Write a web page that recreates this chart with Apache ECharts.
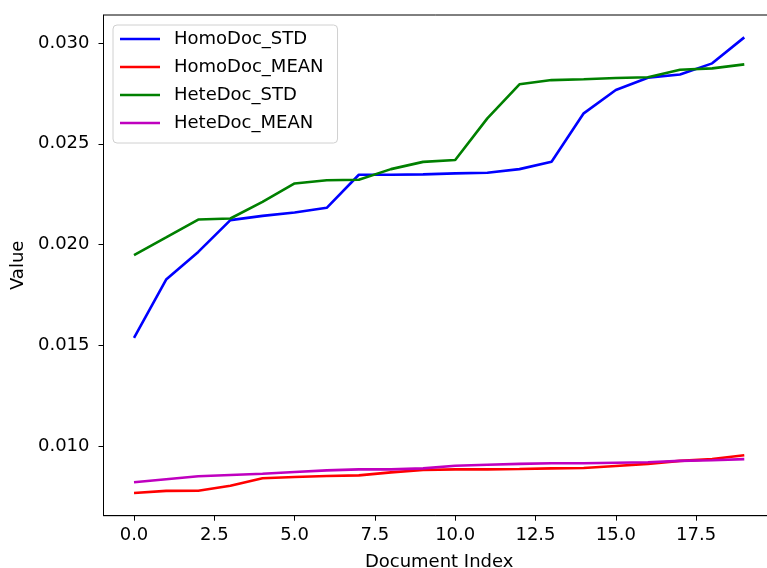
<!DOCTYPE html>
<html>
<head>
<meta charset="utf-8">
<script src="https://cdn.jsdelivr.net/npm/echarts@6/dist/echarts.min.js"></script>
<style>
    html, body { margin: 0; padding: 0; background: #fff; }
    #chart { width: 767px; height: 568px; }
</style>
</head>
<body>
<div id="chart"></div>
<script>
// document index 0..19
const docIndex = [0, 1, 2, 3, 4, 5, 6, 7, 8, 9, 10, 11, 12, 13, 14, 15, 16, 17, 18, 19];

const homoStd = [0.01536, 0.01826, 0.01963, 0.02121, 0.02142, 0.02159, 0.02182, 0.02346, 0.02346, 0.02348,
    0.02353, 0.02356, 0.02374, 0.02411, 0.02651, 0.02767, 0.02828, 0.02844, 0.02899, 0.03028];
const homoMean = [0.00767, 0.00777, 0.00778, 0.00803, 0.00840, 0.00846, 0.00851, 0.00854, 0.00869, 0.00881,
    0.00884, 0.00884, 0.00886, 0.00889, 0.00891, 0.00901, 0.00911, 0.00926, 0.00935, 0.00954];
const heteStd = [0.01947, 0.02035, 0.02124, 0.02129, 0.02212, 0.02303, 0.02319, 0.02321, 0.02374, 0.02410,
    0.02419, 0.02626, 0.02795, 0.02816, 0.02820, 0.02826, 0.02830, 0.02867, 0.02874, 0.02894];
const heteMean = [0.00820, 0.00835, 0.00850, 0.00856, 0.00862, 0.00871, 0.00879, 0.00884, 0.00884, 0.00889,
    0.00902, 0.00907, 0.00911, 0.00914, 0.00914, 0.00917, 0.00919, 0.00926, 0.00929, 0.00935];

const seriesNames = ['HomoDoc_STD', 'HomoDoc_MEAN', 'HeteDoc_STD', 'HeteDoc_MEAN'];
const seriesColors = ['#0000ff', '#ff0000', '#008000', '#bf00bf'];

// tick labels
const xTicks = [0, 2.5, 5, 7.5, 10, 12.5, 15, 17.5];
const yTicks = [0.010, 0.015, 0.020, 0.025, 0.030];

const FONT = 'DejaVu Sans';
const FS = 18;

const toPairs = (vals) => docIndex.map((x, i) => [x, vals[i]]);

const myChart = echarts.init(document.getElementById('chart'), null, { renderer: 'canvas' });

const option = {
    animation: false,
    backgroundColor: '#fff',
    textStyle: { fontFamily: FONT },
    grid: {
        left: 103.5,
        top: 15,
        width: 671.3,   // right spine falls outside the picture
        height: 500.7,
        outerBoundsMode: 'none',
        containLabel: false,
        show: true,
        borderColor: '#000',
        borderWidth: 1,
        backgroundColor: 'transparent'
    },
    legend: {
        orient: 'vertical',
        left: 113,
        top: 25,
        data: seriesNames,
        icon: 'rect',
        itemWidth: 40,
        itemHeight: 2.6,
        itemGap: 8,
        padding: [4, 14, 10, 7],
        borderColor: '#d0d0d0',
        borderWidth: 1,
        borderRadius: 4,
        backgroundColor: 'rgba(255,255,255,0.8)',
        textStyle: {
            fontFamily: FONT,
            fontSize: FS,
            color: '#000',
            lineHeight: 20,
            padding: [0, 0, 0, 9]
        }
    },
    xAxis: {
        type: 'value',
        min: -0.95,
        max: 19.95,
        name: 'Document Index',
        nameLocation: 'middle',
        nameGap: 38,
        nameTextStyle: { fontFamily: FONT, fontSize: FS, color: '#000' },
        axisLine: { show: true, onZero: false, lineStyle: { color: '#000', width: 1 } },
        axisTick: { show: true, inside: false, length: 5, customValues: xTicks, lineStyle: { color: '#000' } },
        axisLabel: {
            customValues: xTicks,
            margin: 11,
            fontFamily: FONT,
            fontSize: FS,
            color: '#000',
            formatter: (v) => v.toFixed(1)
        },
        splitLine: { show: false }
    },
    yAxis: {
        type: 'value',
        min: 0.00654,
        max: 0.03139,
        name: 'Value',
        nameLocation: 'middle',
        nameGap: 76,
        nameTextStyle: { fontFamily: FONT, fontSize: FS, color: '#000' },
        axisLine: { show: true, onZero: false, lineStyle: { color: '#000', width: 1 } },
        axisTick: { show: true, inside: false, length: 5, customValues: yTicks, lineStyle: { color: '#000' } },
        axisLabel: {
            customValues: yTicks,
            margin: 14,
            fontFamily: FONT,
            fontSize: FS,
            color: '#000',
            formatter: (v) => v.toFixed(3)
        },
        splitLine: { show: false }
    },
    series: [homoStd, homoMean, heteStd, heteMean].map((vals, k) => ({
        name: seriesNames[k],
        type: 'line',
        data: toPairs(vals),
        showSymbol: false,
        symbol: 'none',
        color: seriesColors[k],
        lineStyle: { color: seriesColors[k], width: 2.6 }
    }))
};

myChart.setOption(option);
</script>
</body>
</html>
